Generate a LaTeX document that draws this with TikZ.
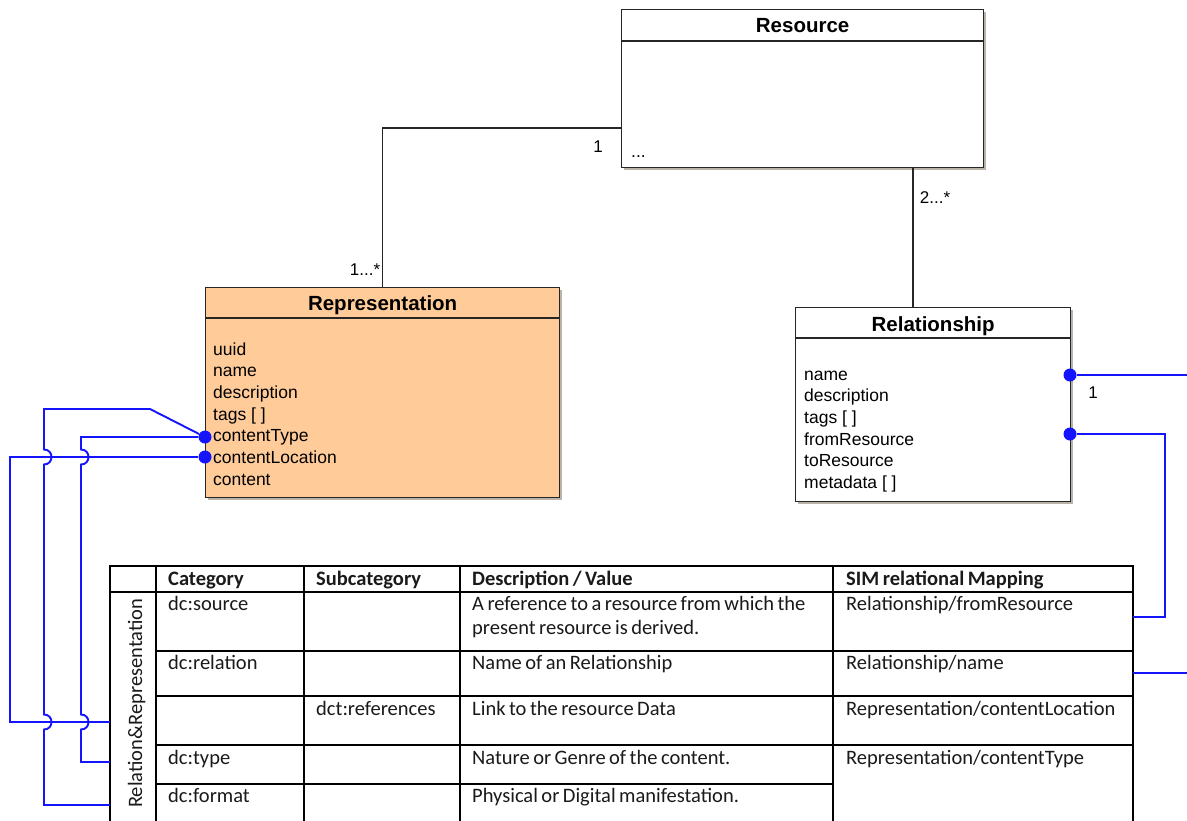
\documentclass[tikz,border=0pt]{standalone}
\usepackage{fontspec}
\setmainfont{Liberation Sans}
\newfontfamily\tablefont{Carlito}[WordSpace=0.75]
\usetikzlibrary{calc}
\definecolor{peach}{HTML}{FFCC99}
\definecolor{wireblue}{HTML}{1414FF}
\definecolor{boxshadow}{HTML}{B8B2A8}
\definecolor{tabletext}{HTML}{1A1A1A}

\begin{document}
\begin{tikzpicture}[x=1pt,y=-1pt,
  umlbox/.style={draw=black!85, line width=1.3pt, rectangle, inner sep=0pt, anchor=north west},
  umlsep/.style={draw=black!85, line width=1.3pt},
  umltitle/.style={font={\fontsize{20.5pt}{24pt}\selectfont\bfseries}, anchor=base, inner sep=0pt},
  umlattr/.style={font={\fontsize{17.5pt}{21pt}\selectfont}, anchor=base west, inner sep=0pt},
  multlabel/.style={font={\fontsize{17pt}{20pt}\selectfont}, inner sep=0pt},
  assocline/.style={draw=black!85, line width=1.2pt},
  wireline/.style={draw=wireblue, line width=1.9pt},
  joint/.style={circle, fill=wireblue, inner sep=0pt, minimum size=13pt},
  tcell/.style={font={\tablefont\fontsize{20.5pt}{24pt}\selectfont}, text=tabletext, anchor=base west, inner sep=0pt, align=left},
  thead/.style={tcell, font={\tablefont\bfseries\fontsize{20.5pt}{24pt}\selectfont}},
  tablerule/.style={draw=black, line width=1.7pt},
]
\useasboundingbox (0,0) rectangle (1187,820);
\fill[white] (0,0) rectangle (1187,820);
\clip (0,0) rectangle (1187,820);

% ---------- Resource ----------
\fill[boxshadow] (624,12) rectangle (986,170);
\node[umlbox, fill=white, minimum width=362pt, minimum height=158pt] (res) at (621,9) {};
\draw[umlsep] ($(res.north west)+(0,32)$) -- ($(res.north east)+(0,32)$);
\node[umltitle] (res-title) at ($(res.north)+(0,23)$) {Resource};
\node[umlattr] (res-more) at (631,157) {...};

% ---------- Representation ----------
\fill[boxshadow] (208,290) rectangle (562,500);
\node[umlbox, fill=peach, minimum width=354pt, minimum height=210pt] (rep) at (205,287) {};
\draw[umlsep] ($(rep.north west)+(0,31)$) -- ($(rep.north east)+(0,31)$);
\node[umltitle] (rep-title) at ($(rep.north)+(0,23)$) {Representation};
\node[umlattr] (rep-uuid)  at (213,355.0) {uuid};
\node[umlattr] (rep-name)  at (213,376.7) {name};
\node[umlattr] (rep-desc)  at (213,398.4) {description};
\node[umlattr] (rep-tags)  at (213,420.1) {tags [ ]};
\node[umlattr] (rep-ctype) at (213,441.8) {contentType};
\node[umlattr] (rep-cloc)  at (213,463.5) {contentLocation};
\node[umlattr] (rep-cont)  at (213,485.2) {content};

% ---------- Relationship ----------
\fill[boxshadow] (798,310) rectangle (1073,504);
\node[umlbox, fill=white, minimum width=275pt, minimum height=194pt] (rel) at (795,307) {};
\draw[umlsep] ($(rel.north west)+(0,31)$) -- ($(rel.north east)+(0,31)$);
\node[umltitle] (rel-title) at ($(rel.north)+(0,24)$) {Relationship};
\node[umlattr] (rel-name) at (804,380.0) {name};
\node[umlattr] (rel-desc) at (804,401.7) {description};
\node[umlattr] (rel-tags) at (804,423.4) {tags [ ]};
\node[umlattr] (rel-from) at (804,445.1) {fromResource};
\node[umlattr] (rel-to)   at (804,466.8) {toResource};
\node[umlattr] (rel-meta) at (804,488.5) {metadata [ ]};

% ---------- associations ----------
\coordinate (res-port) at (621,128);
\coordinate (rel-col) at (913,0);
\draw[assocline] (rep.north) |- (res-port);
\draw[assocline] (res.south -| rel-col) -- (rel.north -| rel-col);
\node[multlabel] (m-res-rep) at (598,147) {1};
\node[multlabel] (m-rep) at (365,270) {1...*};
\node[multlabel] (m-res-rel) at (935,198) {2...*};
\node[multlabel] (m-rel) at (1093,393) {1};

% ---------- mapping table ----------
\coordinate (tbl-nw) at (110,566);
\draw[tablerule] (110,830) -- (tbl-nw) -- (1133,566) -- (1133,830);
\foreach \cx in {156,304,460,833} \draw[tablerule] (\cx,566) -- (\cx,830);
\draw[tablerule] (110,592) -- (1133,592);
\foreach \ry in {651,696,745} \draw[tablerule] (156,\ry) -- (1133,\ry);
\draw[tablerule] (156,784) -- (833,784);

\node[thead] (h-cat)  at (168,585) {Category};
\node[thead] (h-sub)  at (316,585) {Subcategory};
\node[thead] (h-desc) at (472,585) {Description / Value};
\node[thead] (h-map)  at (846,585) {SIM relational Mapping};

\node[tcell, rotate=90] (grp) at (142,808) {Relation\&Representation};

\node[tcell] (c-source) at (168,610) {dc:source};
\node[tcell] (d-source) at (472,610) {A reference to a resource from which the};
\node[tcell] (d-source2) at (472,634) {present resource is derived.};
\node[tcell] (m-source) at (846,610) {Relationship/fromResource};

\node[tcell] (c-rel) at (168,669) {dc:relation};
\node[tcell] (d-rel) at (472,669) {Name of an Relationship};
\node[tcell] (m-relname) at (846,669) {Relationship/name};

\node[tcell] (s-ref) at (316,715) {dct:references};
\node[tcell] (d-ref) at (472,715) {Link to the resource Data};
\node[tcell] (m-ref) at (846,715) {Representation/contentLocation};

\node[tcell] (c-type) at (168,764) {dc:type};
\node[tcell] (d-type) at (472,764) {Nature or Genre of the content.};
\node[tcell] (m-type) at (846,764) {Representation/contentType};

\node[tcell] (c-format) at (168,802) {dc:format};
\node[tcell] (d-format) at (472,802) {Physical or Digital manifestation.};

% ---------- mapping wires ----------
\node[joint] (j-ctype) at (205,437) {};
\node[joint] (j-cloc)  at (205,457) {};
\node[joint] (j-rname) at (1070,375) {};
\node[joint] (j-rfrom) at (1070,434) {};

\coordinate (t-ref)    at (110,722);
\coordinate (t-type)   at (110,762);
\coordinate (t-format) at (110,805);
\coordinate (t-from)   at (1133,617);
\coordinate (t-name)   at (1133,673);

% contentLocation -> dct:references
\draw[wireline] (j-cloc) -- (10,457) -- (10,722) -- (t-ref);
% contentType -> dc:type (hops over the contentLocation wire)
\draw[wireline] (j-ctype) -- (81,437) -- (81,449.5)
  .. controls (91,449.5) and (91,464.5) .. (81,464.5) -- (81,714.5)
  .. controls (91,714.5) and (91,729.5) .. (81,729.5) -- (81,762) -- (t-type);
% contentType -> dc:format (hops over the contentLocation wire)
\draw[wireline] (j-ctype) -- (150,409) -- (44,409) -- (44,449.5)
  .. controls (54,449.5) and (54,464.5) .. (44,464.5) -- (44,714.5)
  .. controls (54,714.5) and (54,729.5) .. (44,729.5) -- (44,805) -- (t-format);
% Relationship/fromResource
\draw[wireline] (j-rfrom) -- (1165,434) -- (1165,617) -- (t-from);
% Relationship/name (routed past the right edge)
\draw[wireline] (j-rname) -- (1200,375) -- (1200,673) -- (t-name);
\end{tikzpicture}
\end{document}
